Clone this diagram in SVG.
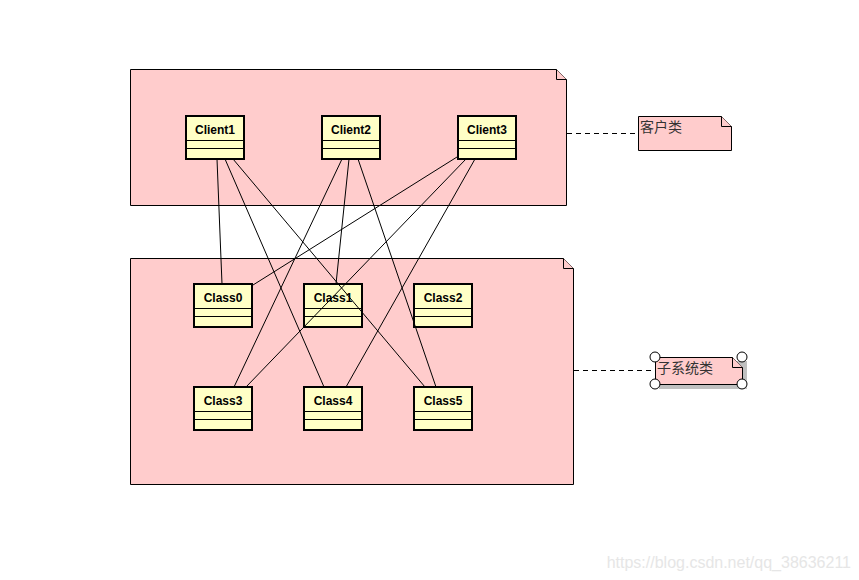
<svg xmlns="http://www.w3.org/2000/svg" width="859" height="580" viewBox="0 0 859 580">
<style>
.pkg{fill:#FFCCCC;stroke:#000;stroke-width:1}
.cls{fill:#FFFFC6;stroke:#000;stroke-width:2}
.sep{stroke:#000;stroke-width:1}
.ct{font-family:"Liberation Sans",Arial,sans-serif;font-weight:bold;font-size:12px;fill:#000;text-anchor:middle}
.conn line{stroke:#000;stroke-width:1}
.dash{stroke:#000;stroke-width:1;stroke-dasharray:5,4}
.note{fill:#FFCCCC;stroke:#000;stroke-width:1}
.nt{font-family:"Noto Sans CJK SC",sans-serif;font-size:14px;fill:#333}
.h{fill:#fff;stroke:#000;stroke-width:1}
</style>
<rect width="859" height="580" fill="#fff"/>
<g id="pkgClients">
<path class="pkg" d="M130.5 69.5H556.5L566.5 79.5V205.5H130.5Z"/>
<path class="pkg" d="M556.5 69.5V79.5H566.5" fill="none"/>
</g>
<g id="pkgSubsystem">
<path class="pkg" d="M130.5 258.5H563.5L573.5 268.5V484.5H130.5Z"/>
<path class="pkg" d="M563.5 258.5V268.5H573.5" fill="none"/>
</g>
<g id="Client1"><rect class="cls" x="186" y="116" width="58" height="43"/><line class="sep" x1="186" y1="140.5" x2="244" y2="140.5"/><line class="sep" x1="186" y1="148.5" x2="244" y2="148.5"/><text class="ct" x="215" y="134">Client1</text></g>
<g id="Client2"><rect class="cls" x="322" y="116" width="58" height="43"/><line class="sep" x1="322" y1="140.5" x2="380" y2="140.5"/><line class="sep" x1="322" y1="148.5" x2="380" y2="148.5"/><text class="ct" x="351" y="134">Client2</text></g>
<g id="Client3"><rect class="cls" x="458" y="116" width="58" height="43"/><line class="sep" x1="458" y1="140.5" x2="516" y2="140.5"/><line class="sep" x1="458" y1="148.5" x2="516" y2="148.5"/><text class="ct" x="487" y="134">Client3</text></g>
<g id="Class0"><rect class="cls" x="194" y="284" width="58" height="43"/><line class="sep" x1="194" y1="308.5" x2="252" y2="308.5"/><line class="sep" x1="194" y1="316.5" x2="252" y2="316.5"/><text class="ct" x="223" y="302">Class0</text></g>
<g id="Class1"><rect class="cls" x="304" y="284" width="58" height="43"/><line class="sep" x1="304" y1="308.5" x2="362" y2="308.5"/><line class="sep" x1="304" y1="316.5" x2="362" y2="316.5"/><text class="ct" x="333" y="302">Class1</text></g>
<g id="Class2"><rect class="cls" x="414" y="284" width="58" height="43"/><line class="sep" x1="414" y1="308.5" x2="472" y2="308.5"/><line class="sep" x1="414" y1="316.5" x2="472" y2="316.5"/><text class="ct" x="443" y="302">Class2</text></g>
<g id="Class3"><rect class="cls" x="194" y="387" width="58" height="43"/><line class="sep" x1="194" y1="411.5" x2="252" y2="411.5"/><line class="sep" x1="194" y1="419.5" x2="252" y2="419.5"/><text class="ct" x="223" y="405">Class3</text></g>
<g id="Class4"><rect class="cls" x="304" y="387" width="58" height="43"/><line class="sep" x1="304" y1="411.5" x2="362" y2="411.5"/><line class="sep" x1="304" y1="419.5" x2="362" y2="419.5"/><text class="ct" x="333" y="405">Class4</text></g>
<g id="Class5"><rect class="cls" x="414" y="387" width="58" height="43"/><line class="sep" x1="414" y1="411.5" x2="472" y2="411.5"/><line class="sep" x1="414" y1="419.5" x2="472" y2="419.5"/><text class="ct" x="443" y="405">Class5</text></g>
<g id="connectors" class="conn">
<line x1="217" y1="159" x2="222" y2="284"/>
<line x1="225" y1="159" x2="324" y2="387"/>
<line x1="233" y1="159" x2="425" y2="387"/>
<line x1="342" y1="159" x2="234" y2="387"/>
<line x1="349" y1="159" x2="336" y2="284"/>
<line x1="358" y1="159" x2="436" y2="387"/>
<line x1="457" y1="157" x2="253" y2="285"/>
<line x1="466" y1="159" x2="246" y2="387"/>
<line x1="475" y1="159" x2="346" y2="387"/>
<line class="dash" x1="567" y1="133.5" x2="638" y2="133.5"/>
<line class="dash" x1="574" y1="370.5" x2="655" y2="370.5"/>
</g>
<g id="note1">
<path class="note" d="M638.5 116.5H721.5L731.5 126.5V150.5H638.5Z"/>
<path class="note" d="M721.5 116.5V126.5H731.5" fill="none"/>
<text class="nt" x="640" y="132">客户类</text>
</g>
<g id="note2">
<path d="M659 361H747V389H659Z" fill="#C0C0C0"/>
<path class="note" d="M655.5 357.5H732.5L742.5 367.5V384.5H655.5Z"/>
<path class="note" d="M732.5 357.5V367.5H742.5" fill="none"/>
<text class="nt" x="657" y="373">子系统类</text>
<circle class="h" cx="655" cy="357" r="5"/>
<circle class="h" cx="742" cy="357" r="5"/>
<circle class="h" cx="655" cy="384" r="5"/>
<circle class="h" cx="742" cy="384" r="5"/>
</g>
<text x="851" y="568" font-family="Liberation Sans,Arial,sans-serif" font-size="16" fill="#E6E6E6" text-anchor="end">https://blog.csdn.net/qq_38636211</text>
</svg>
